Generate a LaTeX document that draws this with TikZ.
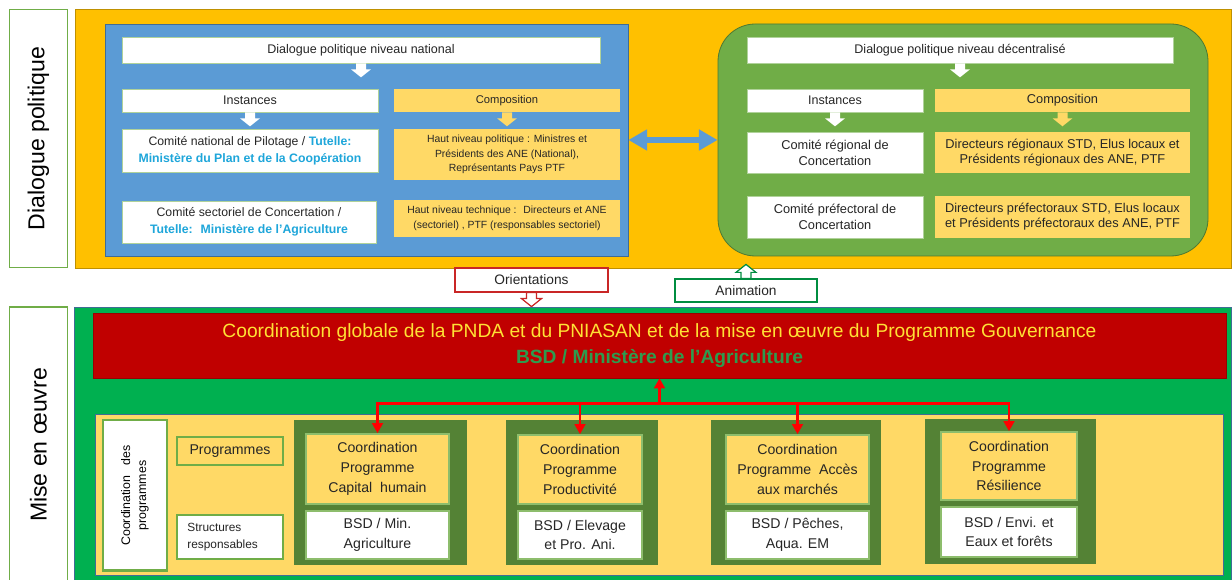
\documentclass[tikz,border=0pt]{standalone}
\usepackage{fontspec}
\setmainfont{Liberation Sans}
\usetikzlibrary{arrows.meta}
\definecolor{dlgorange}{HTML}{FFC000}
\definecolor{natblue}{HTML}{5B9BD5}
\definecolor{decgreen}{HTML}{70AD47}
\definecolor{paleorange}{HTML}{FFD966}
\definecolor{mogreen}{HTML}{00B050}
\definecolor{coordred}{HTML}{C00000}
\definecolor{progreen}{HTML}{548235}
\definecolor{tutblue}{HTML}{1EA6DA}
\definecolor{ttlyellow}{HTML}{FFE135}
\definecolor{bsdgreen}{HTML}{2E9B4E}
\definecolor{linkred}{HTML}{FF0000}
\definecolor{txt}{HTML}{262626}
\colorlet{frame edge}{decgreen!55}
\newcommand{\tut}[1]{{\bfseries\color{tutblue}#1}}
% box from its two corners (in pixels of the picture)
\newcommand{\boxnode}[7]{%
  \node[#1, minimum width={(#5-#3)*0.75pt}, minimum height={(#6-#4)*0.75pt}] (#2) at ({(#3+#5)/2},{(#4+#6)/2}) {#7};}
\tikzset{
  panel/.style={inner sep=0pt},
  dlgbg/.style={panel, fill=dlgorange, draw=dlgorange!75!black, line width=0.6pt},
  natbg/.style={panel, fill=natblue, draw=natblue!70!black, line width=0.6pt},
  decbg/.style={panel, fill=decgreen, draw=decgreen!70!black, line width=0.6pt, rounded corners=28pt},
  mobg/.style={panel, fill=mogreen, draw=natblue!70!black, line width=0.6pt},
  progbg/.style={panel, fill=paleorange, draw=natblue!70!black, line width=0.5pt},
  sidebox/.style={panel, fill=white, draw=decgreen, line width=0.8pt, text=black, font=\fontsize{17.3}{20}\selectfont},
  wbox/.style={panel, fill=white, draw=frame edge, line width=0.5pt, align=center, text=txt, font=\fontsize{9.4}{12}\selectfont},
  obox/.style={panel, fill=paleorange, align=center, text=txt, font=\fontsize{9.6}{11.4}\selectfont},
  smallbox/.style={obox, font=\fontsize{7.8}{11}\selectfont},
  tagbox/.style={panel, fill=white, line width=0.9pt, text=txt, font=\fontsize{10.3}{12}\selectfont},
  coordbox/.style={panel, fill=coordred, draw=coordred!80!black, line width=0.5pt, align=center, font=\fontsize{14.4}{19.5}\selectfont},
  cdpbox/.style={panel, fill=white, draw=decgreen, line width=2pt, align=center, text=black, font=\fontsize{9.3}{12}\selectfont},
  lblbox/.style={panel, draw=decgreen, line width=1.1pt, text=txt},
  progframe/.style={panel, fill=progreen},
  progtitle/.style={panel, fill=paleorange, draw=decgreen!80, line width=1.3pt, align=center, text=txt, font=\fontsize{10.6}{14.8}\selectfont},
  progbsd/.style={progtitle, fill=white},
  duplex/.style={draw=natblue, line width=4.5pt, {Triangle[width=15pt,length=14pt]}-{Triangle[width=15pt,length=14pt]}},
  link/.style={draw=linkred, line width=2.2pt, -{Triangle[width=8pt,length=7.5pt]}},
  pics/blkdown/.style={code={
    \path[pic actions] (-5,0) -- (-5,6) -- (-10,6) -- (0,14) -- (10,6) -- (5,6) -- (5,0) -- cycle;}}
}

\begin{document}
\begin{tikzpicture}[x=0.75pt, y=-0.75pt]
    \clip (0,0) rectangle (1232,580);
    % Dialogue politique
    \boxnode{dlgbg}{dlg}{75}{9}{1231}{268}{}
    \node[sidebox, rotate=90, minimum width=194pt, minimum height=44pt] (dlgside) at (38.5,138.5) {Dialogue politique};
    \boxnode{natbg}{natbox}{105}{24}{628}{256}{}
    \boxnode{decbg}{decbox}{718}{24}{1208}{256}{}

    \boxnode{wbox}{natl}{122}{37}{600}{63}{Dialogue politique niveau national}
    \boxnode{wbox}{inst1}{122}{89}{378}{112}{Instances}
    \boxnode{obox, font=\fontsize{8.4}{10}\selectfont}{comp1}{394}{89}{620}{112}{Composition}
    \boxnode{wbox, font=\fontsize{9.2}{12.5}\selectfont}{cnp}{122}{129}{378}{172}
        {Comité national de Pilotage / \tut{Tutelle:}\\\tut{Ministère du Plan et de la Coopération}}
    \boxnode{wbox, font=\fontsize{9.2}{12.5}\selectfont}{csc}{122}{201}{376}{243}
        {Comité sectoriel de Concertation /\\\tut{Tutelle:~ Ministère de l’Agriculture}}
    \boxnode{smallbox}{hnp}{394}{129}{620}{180}
        {Haut niveau politique : Ministres et\\Présidents des ANE (National),\\Représentants Pays PTF}
    \boxnode{smallbox}{hnt}{394}{200}{620}{237}
        {Haut niveau technique :~ Directeurs et ANE\\(sectoriel) , PTF (responsables sectoriel)}

    \boxnode{wbox}{decl}{747}{37}{1173}{63}{Dialogue politique niveau décentralisé}
    \boxnode{wbox}{inst2}{747}{89}{923}{112}{Instances}
    \boxnode{obox}{comp2}{935}{89}{1190}{112}{Composition}
    \boxnode{wbox, font=\fontsize{9.6}{12}\selectfont}{crc}{747}{132}{923}{173}{Comité régional de\\Concertation}
    \boxnode{obox}{drs}{935}{132}{1190}{173}
        {Directeurs régionaux STD, Elus locaux et\\Présidents régionaux des ANE, PTF}
    \boxnode{wbox, font=\fontsize{9.6}{12}\selectfont}{cpc}{747}{196}{923}{238}{Comité préfectoral de\\Concertation}
    \boxnode{obox}{dps}{935}{196}{1190}{238}
        {Directeurs préfectoraux STD, Elus locaux\\et Présidents préfectoraux des ANE, PTF}

    \pic[fill=white] at (natl.south) {blkdown};
    \pic[fill=white] at (inst1.south) {blkdown};
    \pic[fill=paleorange] at (comp1.south) {blkdown};
    \pic[fill=white] at (decl.south) {blkdown};
    \pic[fill=white] at (inst2.south) {blkdown};
    \pic[fill=paleorange] at (comp2.south) {blkdown};
    \draw[duplex] (natbox.east) -- (decbox.west);

    % liens entre les deux niveaux
    \boxnode{tagbox, draw=coordred!85}{orient}{455}{268}{608}{292}{Orientations}
    \pic[fill=white, draw=coordred!85, line width=0.9pt] at (orient.south) {blkdown};
    \boxnode{tagbox, draw=mogreen!80!black}{anim}{675}{279}{817}{302}{Animation}
    \pic[fill=white, draw=mogreen!80!black, line width=0.9pt, rotate=180] at (anim.north) {blkdown};

    % Mise en oeuvre
    \boxnode{mobg}{mo}{74}{307}{1231}{590}{}
    \node[sidebox, rotate=90, minimum width=207pt, minimum height=43pt] (moside) at (38.5,445) {Mise en œuvre};
    \boxnode{coordbox}{coord}{93}{313}{1226}{378}
        {{\color{ttlyellow}Coordination globale de la PNDA et du PNIASAN et de la mise en œuvre du Programme Gouvernance}\\
         {\bfseries\color{bsdgreen}BSD / Ministère de l’Agriculture}}
    \boxnode{progbg}{progs}{95}{414}{1223}{575}{}
    \node[cdpbox, rotate=90, minimum width=113pt, minimum height=48pt] (cdp) at (135,495.5) {Coordination~~~des\\programmes};
    \boxnode{lblbox, fill=paleorange, font=\fontsize{10.6}{12}\selectfont}{lblprog}{177}{437}{283}{465}{Programmes}
    \boxnode{lblbox, fill=white, font=\fontsize{8.9}{12.5}\selectfont, text width=64pt, align=left}{lblstruct}{177}{515}{283}{559}{Structures\\responsables}

    \boxnode{progframe}{p1}{294}{420}{467}{565}{}
    \boxnode{progtitle}{c1}{306}{434}{449}{504}{Coordination\\Programme\\Capital~~humain}
    \boxnode{progbsd}{b1}{306}{511}{449}{559}{BSD / Min.\\Agriculture}
    \boxnode{progframe}{p2}{506}{420}{658}{565}{}
    \boxnode{progtitle}{c2}{518}{435}{642}{504}{Coordination\\Programme\\Productivité}
    \boxnode{progbsd}{b2}{518}{511}{642}{559}{BSD / Elevage\\et Pro. Ani.}
    \boxnode{progframe}{p3}{711}{420}{881}{565}{}
    \boxnode{progtitle}{c3}{726}{435}{869}{504}{Coordination\\Programme~~Accès\\aux marchés}
    \boxnode{progbsd}{b3}{726}{511}{869}{559}{BSD / Pêches,\\Aqua. EM}
    \boxnode{progframe}{p4}{925}{419}{1096}{564}{}
    \boxnode{progtitle}{c4}{941}{432}{1077}{500}{Coordination\\Programme\\Résilience}
    \boxnode{progbsd}{b4}{941}{507}{1077}{557}{BSD / Envi. et\\Eaux et forêts}

    \path (coord.south) ++(0,25) coordinate (hub);
    \draw[link] (hub) -- (coord.south);
    \draw[link] (hub) -| (c1.north);
    \draw[link] (hub) -| (c2.north);
    \draw[link] (hub) -| (c3.north);
    \draw[link] (hub) -| (c4.north);
\end{tikzpicture}
\end{document}
